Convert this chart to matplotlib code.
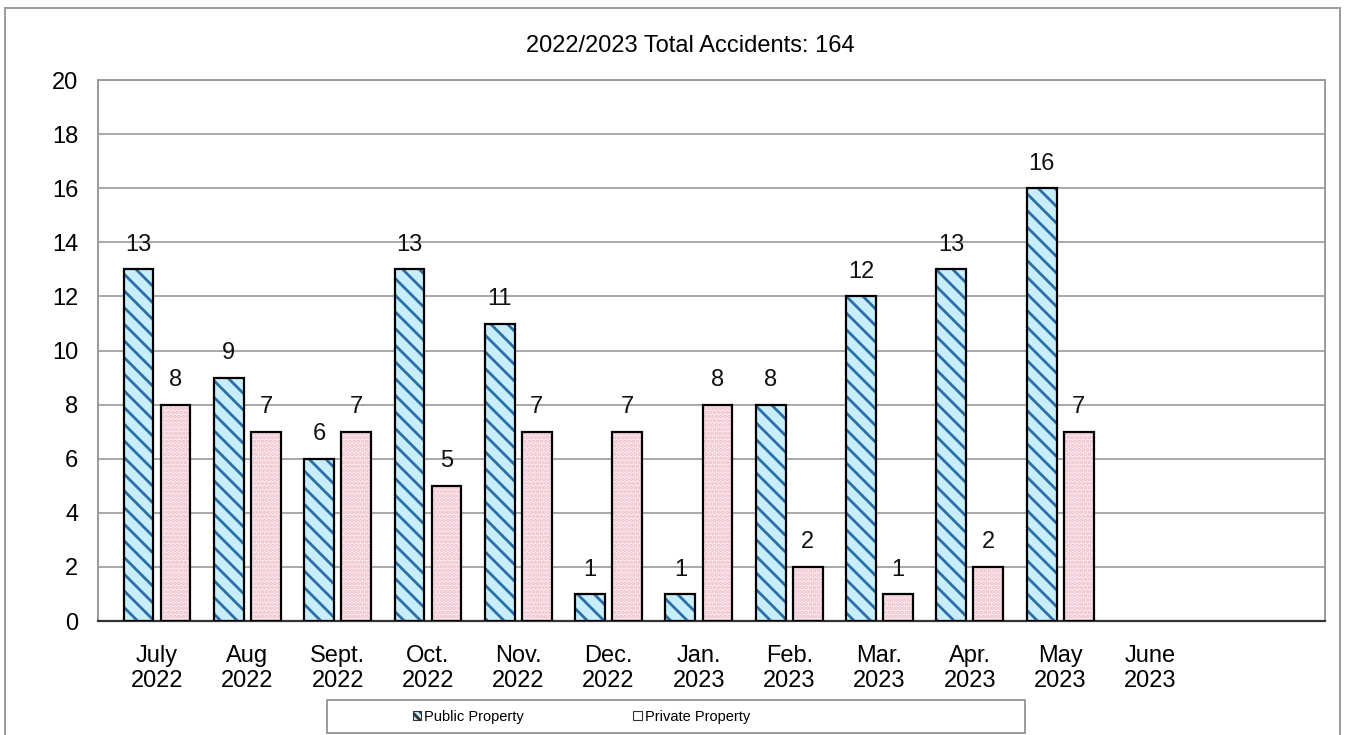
import matplotlib

matplotlib.use("Agg")
import matplotlib.pyplot as plt
import numpy as np
from matplotlib.patches import Patch, Rectangle

plt.rcParams["font.family"] = ["Liberation Sans", "DejaVu Sans"]
plt.rcParams["hatch.linewidth"] = 2.0

months = ["July\n2022", "Aug\n2022", "Sept.\n2022", "Oct.\n2022", "Nov.\n2022", "Dec.\n2022",
          "Jan.\n2023", "Feb.\n2023", "Mar.\n2023", "Apr.\n2023", "May\n2023", "June\n2023"]
public = [13, 9, 6, 13, 11, 1, 1, 8, 12, 13, 16, None]
private = [8, 7, 7, 5, 7, 7, 8, 2, 1, 2, 7, None]
title = "2022/2023 Total Accidents: 164"

PUB_FACE = "#C9EEFB"
PUB_HATCH = "#2B6FA6"
PRI_FACE = "#FDEEF2"
PRI_HATCH = "#EDBCC9"

FS = 17

fig = plt.figure(figsize=(13.49, 7.35), dpi=100)
ax = fig.add_axes([0.0726, 0.155, 0.9094, 0.736])

x = np.arange(len(months))
width = 0.33
offset = 0.205

pub_x = [xi - offset for xi, v in zip(x, public) if v is not None]
pub_v = [v for v in public if v is not None]
pri_x = [xi + offset for xi, v in zip(x, private) if v is not None]
pri_v = [v for v in private if v is not None]

# fill + hatch first, then a plain black outline on top
ax.bar(pub_x, pub_v, width, color=PUB_FACE, edgecolor=PUB_HATCH, hatch="\\\\", linewidth=0, zorder=3)
ax.bar(pub_x, pub_v, width, fill=False, edgecolor="black", linewidth=1.6, zorder=4)
ax.bar(pri_x, pri_v, width, color=PRI_FACE, edgecolor=PRI_HATCH, hatch="....", linewidth=0, zorder=3)
ax.bar(pri_x, pri_v, width, fill=False, edgecolor="black", linewidth=1.6, zorder=4)

for xi, v in zip(pub_x, pub_v):
    ax.text(xi, v + 0.5, str(v), ha="center", va="bottom", fontsize=FS, color="#111111")
for xi, v in zip(pri_x, pri_v):
    ax.text(xi, v + 0.5, str(v), ha="center", va="bottom", fontsize=FS, color="#111111")

# the chart leaves empty room on the right after June
ax.set_xlim(-0.655, 12.93)
ax.set_ylim(0, 20)
ax.set_yticks(range(0, 21, 2))
ax.set_xticks(x)
ax.set_xticklabels(months, fontsize=FS, linespacing=1.2)
ax.tick_params(axis="y", labelsize=FS, length=0, pad=14)
ax.tick_params(axis="x", length=0, pad=17)
ax.yaxis.grid(True, color="#A8A8A8", linewidth=1.4, zorder=0)
ax.set_axisbelow(True)

for side in ["left", "top", "right"]:
    ax.spines[side].set_color("#9A9A9A")
    ax.spines[side].set_linewidth(1.4)
ax.spines["bottom"].set_color("#333333")
ax.spines["bottom"].set_linewidth(1.6)

fig.text(0.5115, 0.937, title, ha="center", va="center", fontsize=FS)

# outer chart frame
fig.patches.append(Rectangle((0.004, -0.01), 0.989, 0.999, transform=fig.transFigure,
                             fill=False, edgecolor="#9A9A9A", linewidth=1.4))
# legend box
fig.patches.append(Rectangle((0.2425, 0.003), 0.517, 0.044, transform=fig.transFigure,
                             fill=False, edgecolor="#8A8A8A", linewidth=1.2))

handles = [Patch(facecolor=PUB_FACE, edgecolor="#333333", hatch="\\\\\\\\", linewidth=0.8),
           Patch(facecolor="white", edgecolor="#333333", linewidth=0.8)]
fig.legend(handles, ["Public Property", "Private Property"], loc="center",
           bbox_to_anchor=(0.431, 0.025), ncol=2, frameon=False, fontsize=10.5,
           handlelength=0.6, handleheight=0.6, handletextpad=0.2, columnspacing=7.5)

fig.savefig("out.png", dpi=100)
plt.close(fig)
